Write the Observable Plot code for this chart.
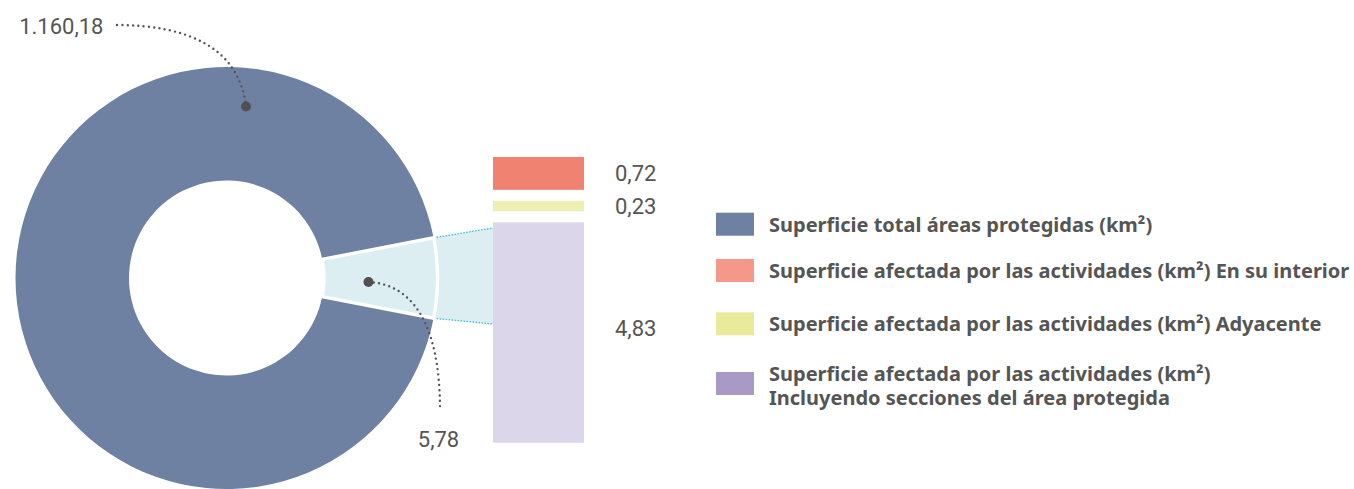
<!DOCTYPE html>
<html><head><meta charset="utf-8">
<script src="https://cdn.jsdelivr.net/npm/d3@7"></script>
<script src="https://cdn.jsdelivr.net/npm/@observablehq/plot@0.6"></script>
<style>
html,body{margin:0;padding:0;background:#fff;}
#chart{position:relative;width:1354px;height:489px;}
</style></head><body><div id="chart"></div>
<script>
// ---------- Datos ----------
const donutCategorias = ["Superficie total áreas protegidas (km²)", "Superficie afectada por las actividades (km²)"];
const donutValores = [1160.18, 5.78];
const donutColores = ["#6f81a2", "#ddeef3"];

const barraCategorias = ["Incluyendo secciones del área protegida", "Adyacente", "En su interior"];
const barraValores = [4.83, 0.23, 0.72];
const barraColores = ["#dbd6e9", "#eef0b3", "#f08271"];

const leyendaTextos = [
  ["Superficie total áreas protegidas (km²)"],
  ["Superficie afectada por las actividades (km²) En su interior"],
  ["Superficie afectada por las actividades (km²) Adyacente"],
  ["Superficie afectada por las actividades (km²)", "Incluyendo secciones del área protegida"]
];
const leyendaColores = ["#6f81a2", "#f4998a", "#e9eb9b", "#a999c7"];

// ---------- Formato ----------
const es = d3.formatLocale({decimal: ",", thousands: ".", grouping: [3], currency: ["", " €"]});
const fmt = es.format(",.2f");

// ---------- Diseño ----------
const W = 1354, H = 489;
const cx = 226.5, cy = 278, R = 211, r0 = 97.5;
const wedgeDeg = 22;
const gap = 0.241; // separación entre segmentos (en km²)
const conexion = {top: 228, bottom: 324};
const labelFont = "Roboto, 'Liberation Sans', sans-serif";
const legendFont = "'Noto Sans', 'Liberation Sans', sans-serif";
const yRange = [442.7, 157];

// filas de la barra apilada con separación
let acc = 0;
const filas = barraCategorias.map((c, i) => {
  const y1 = acc, y2 = acc + barraValores[i];
  acc = y2 + gap;
  return {categoria: c, valor: barraValores[i], y1, y2, color: barraColores[i]};
});
const yMax = acc - gap;
const pxUnit = yMax / (yRange[0] - yRange[1]); // km² por píxel

function donutMark(index, scales, values, dimensions) {
  const g = d3.create("svg:g");
  const half = wedgeDeg / 2 * Math.PI / 180;
  const a0 = Math.PI / 2 - half, a1 = Math.PI / 2 + half;
  const pie = d3.pie().sort(null).value(d => d.peso).startAngle(a0).endAngle(a0 + 2 * Math.PI);
  const datos = [
    {valor: donutValores[1], color: donutColores[1], peso: wedgeDeg},
    {valor: donutValores[0], color: donutColores[0], peso: 360 - wedgeDeg}
  ];
  const arcs = pie(datos);
  const arc = d3.arc().innerRadius(r0).outerRadius(R);
  const pt = a => [cx + R * Math.sin(a), cy - R * Math.cos(a)];
  const xb = scales.x("barra");
  const [p0, p1] = [pt(a0), pt(a1)];
  // trapecio de conexión
  g.append("path")
    .attr("d", `M${p0}L${xb},${conexion.top}L${xb},${conexion.bottom}L${p1}Z`)
    .attr("fill", donutColores[1]);
  for (const [p, yy] of [[p0, conexion.top], [p1, conexion.bottom]]) {
    g.append("line").attr("x1", p[0]).attr("y1", p[1]).attr("x2", xb).attr("y2", yy)
      .attr("stroke", "#3fc1d9").attr("stroke-width", 1.3).attr("stroke-dasharray", "1.6 1.4");
  }
  const gg = g.append("g").attr("transform", `translate(${cx},${cy})`);
  // porción grande
  gg.append("path").attr("d", arc(arcs[1])).attr("fill", arcs[1].data.color);
  // porción pequeña
  gg.append("path").attr("d", arc(arcs[0])).attr("fill", arcs[0].data.color)
    .attr("stroke", "#fff").attr("stroke-width", 3.4).attr("stroke-linejoin", "miter");
  // líneas guía
  const guias = [
    {d: "M117,25C188,25 239,48 246,106", dot: [246, 106.5]},
    {d: "M368.5,282C410,284 440,320 440,410", dot: [368.5, 282]}
  ];
  for (const gu of guias) {
    g.append("path").attr("d", gu.d).attr("fill", "none").attr("stroke", "#555")
      .attr("stroke-width", 2.4).attr("stroke-linecap", "round").attr("stroke-dasharray", "0 5.3");
    g.append("circle").attr("cx", gu.dot[0]).attr("cy", gu.dot[1]).attr("r", 5).attr("fill", "#505050");
  }
  g.append("text").attr("x", 103.5).attr("y", 33.5).attr("text-anchor", "end")
    .attr("font-family", labelFont).attr("font-size", 22).attr("fill", "#555").text(fmt(donutValores[0]));
  g.append("text").attr("x", 438.5).attr("y", 446.7).attr("text-anchor", "middle")
    .attr("font-family", labelFont).attr("font-size", 22).attr("fill", "#555").text(fmt(donutValores[1]));
  // leyenda
  const legTop = [212.7, 259, 312.3, 372];
  const legBase = [[231.5], [277.8], [331.2], [380.7, 404.7]];
  leyendaTextos.forEach((lines, i) => {
    g.append("rect").attr("x", 716).attr("y", legTop[i]).attr("width", 38).attr("height", 23).attr("fill", leyendaColores[i]);
    lines.forEach((t, j) => {
      g.append("text").attr("x", 769).attr("y", legBase[i][j])
        .attr("text-anchor", "start")
        .attr("font-family", legendFont).attr("font-weight", "bold").attr("font-size", 20)
        .attr("fill", "#555").text(t);
    });
  });
  return g.node();
}

const chart = Plot.plot({
  width: W, height: H, margin: 0,
  x: {type: "band", domain: ["barra"], range: [493, 584], padding: 0, axis: null},
  y: {domain: [0, yMax], range: yRange, axis: null},
  color: {domain: barraCategorias, range: barraColores},
  style: {background: "#fff"},
  marks: [
    donutMark,
    Plot.barY(filas, {x: () => "barra", y1: "y1", y2: "y2", fill: "categoria"}),
    Plot.text(filas, {x: () => "barra",
      y: d => (d.y1 + d.y2) / 2 + (d.valor > 2 ? 4 * pxUnit : 0),
      text: d => fmt(d.valor), dx: 76,
      textAnchor: "start", fontSize: 22, fill: "#555", fontFamily: labelFont})
  ]
});
document.getElementById("chart").append(chart);
</script></body></html>
